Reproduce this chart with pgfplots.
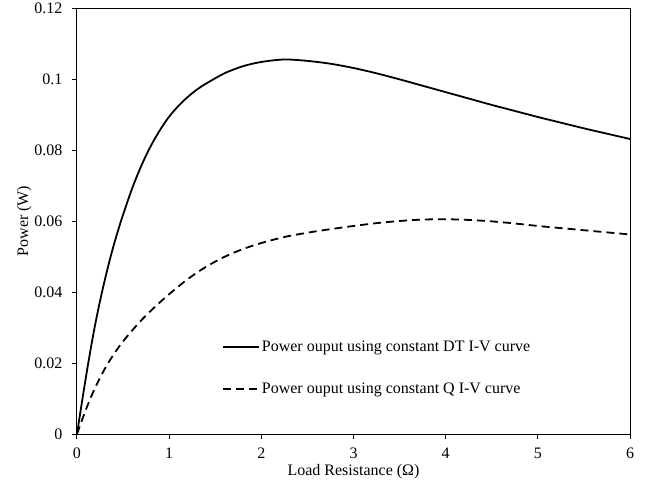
\documentclass[border=0pt]{standalone}
\usepackage{pgfplots}
\pgfplotsset{compat=1.18}
\usepackage{fontspec}
\setmainfont{Liberation Serif}
\begin{document}
\begin{tikzpicture}
\useasboundingbox (-77pt,-54pt) rectangle (573pt,434pt);
\begin{axis}[
  at={(0pt,0pt)}, anchor=south west,
  scale only axis, width=553pt, height=426pt,
  xmin=0, xmax=6, ymin=0, ymax=0.12,
  xtick={0,1,2,3,4,5,6},
  ytick={0,0.02,0.04,0.06,0.08,0.1,0.12},
  scaled y ticks=false,
  yticklabel style={/pgf/number format/fixed,/pgf/number format/precision=2, xshift=-6pt},
  xticklabel style={yshift=-5pt},
  /pgf/number format/assume math mode=true,
  tick align=outside, major tick length=5pt,
  xtick pos=bottom, ytick pos=left,
  axis line style={line width=1pt},
  tick style={line width=1pt, black},
  ticklabel style={font=\fontsize{16}{19}\selectfont},
  label style={font=\fontsize{16}{19}\selectfont},
  xlabel={Load Resistance (Ω)},
  ylabel={Power (W)},
  xlabel style={yshift=1pt},
  ylabel style={yshift=-4pt},
  legend style={draw=none, fill=none, font=\fontsize{16}{19}\selectfont,
    at={(0.262,0.223)}, anchor=north west, row sep=26pt, inner sep=0pt},
  legend cell align=left,
  legend image code/.code={\draw[#1] (0pt,0pt) -- (36pt,0pt);},
]
\addplot[black, line width=1.8pt, smooth] coordinates {
(0,0) (0.05,0.0084) (0.1,0.0165) (0.15,0.0242) (0.2,0.0312) (0.25,0.0375)
(0.3,0.0432) (0.35,0.0485) (0.4,0.0533) (0.45,0.0577) (0.5,0.0618)
(0.6,0.0693) (0.7,0.0757) (0.8,0.0811) (0.9,0.0856) (1.0,0.0894)
(1.1,0.0924) (1.2,0.0949) (1.3,0.0970) (1.4,0.0987) (1.6,0.1016) (1.8,0.1036) (2.0,0.1048)
(2.25,0.1055) (2.5,0.1051) (2.75,0.1043) (3.0,0.1031) (3.25,0.1016)
(3.5,0.0999) (3.75,0.0981) (4.0,0.0963) (4.25,0.0945) (4.5,0.0927)
(4.75,0.0910) (5.0,0.0893) (5.25,0.0877) (5.5,0.0861) (5.75,0.0846) (6.0,0.0831)
};
\addlegendentry{Power ouput using constant DT I-V curve}
\addplot[black, line width=1.8pt, smooth, dash pattern=on 8pt off 5pt] coordinates {
(0,0) (0.05,0.0036) (0.1,0.0071) (0.15,0.0103) (0.2,0.0132) (0.3,0.0183)
(0.4,0.0225) (0.5,0.0261) (0.6,0.0292) (0.7,0.0321) (0.8,0.0347)
(0.9,0.0371) (1.0,0.0394) (1.2,0.0436) (1.4,0.0471) (1.6,0.0499)
(1.8,0.0521) (2.0,0.0538) (2.25,0.0555) (2.5,0.0567) (2.75,0.0577)
(3.0,0.0586) (3.25,0.0594) (3.5,0.0600) (3.75,0.0604) (4.0,0.0605)
(4.25,0.0603) (4.5,0.0599) (4.75,0.0593) (5.0,0.0586) (5.25,0.0580)
(5.5,0.0574) (5.75,0.0568) (6.0,0.0562)
};
\addlegendentry{Power ouput using constant Q I-V curve}
\end{axis}
\end{tikzpicture}
\end{document}
